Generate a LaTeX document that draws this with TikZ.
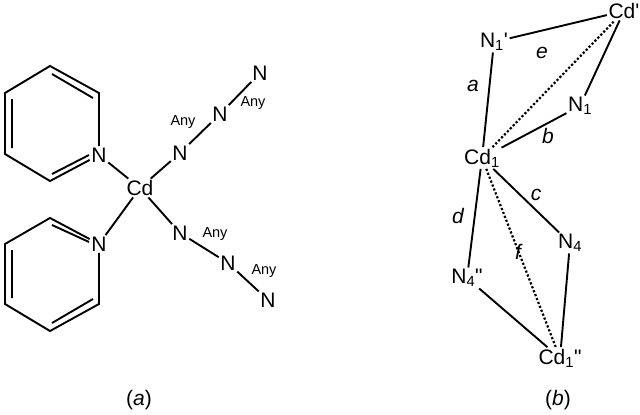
\documentclass[tikz,border=0pt]{standalone}
\usepackage{fontspec}
\setmainfont{Liberation Sans}
\usetikzlibrary{positioning}
\begin{document}
\begin{tikzpicture}[x=1pt,y=-1pt,
    atom/.style={inner sep=1.5pt, font=\fontsize{21}{21}\selectfont},
    tag/.style={inner sep=0pt, font=\fontsize{14.5}{14.5}\selectfont},
    lbl/.style={inner sep=0pt, font=\fontsize{21}{21}\selectfont\itshape},
    bond/.style={line width=1.9pt},
    weak/.style={line width=2.2pt, dotted}
]
\useasboundingbox (0,0) rectangle (640,415);
% (a) complex
\node[atom] (cd) at (140,188) {Cd};
\node[atom] (pn1) at (99,155) {N};
\node[atom] (pn2) at (99,244) {N};
\node[atom] (u1) at (180,153) {N};
\node[atom] (u2) at (220,114) {N};
\node[atom] (u3) at (260,73) {N};
\node[atom] (l1) at (180,233) {N};
\node[atom] (l2) at (228,263) {N};
\node[atom] (l3) at (268,300) {N};
\node[tag] at (183,122) {Any};
\node[tag] at (253,103) {Any};
\node[tag] at (215,234) {Any};
\node[tag] at (264,271) {Any};
% rings
\draw[bond] (pn1) -- (50,181) -- (5,154) -- (5,93) -- (50,66) -- (99,93) -- (pn1);
\draw[bond] (89,155) -- (52,174) (12,148) -- (12,99) (52,74) -- (93,98);
\draw[bond] (pn2) -- (99,304) -- (50,331) -- (5,304) -- (5,244) -- (50,218) -- (pn2);
\draw[bond] (89,242) -- (52,225) (12,250) -- (12,298) (93,299) -- (52,323);
% bonds
\draw[bond] (cd) -- (pn1);
\draw[bond] (cd) -- (pn2);
\draw[bond] (cd) -- (u1) -- (u2) -- (u3);
\draw[bond] (cd) -- (l1) -- (l2) -- (l3);
% (b) core
\node[atom] (cdp) at (624,11) {Cd\textquotesingle};
\node[atom] (n1p) at (494,42) {N\textsubscript{1}\textquotesingle};
\node[atom] (n1) at (580,106) {N\textsubscript{1}};
\node[atom] (cd1) at (482,158) {Cd\textsubscript{1}};
\node[atom] (n4) at (570,243) {N\textsubscript{4}};
\node[atom] (n4pp) at (467,278) {N\textsubscript{4}\textquotedbl};
\node[atom] (cd1pp) at (560,358) {Cd\textsubscript{1}\textquotedbl};
\draw[bond] (n1p) -- (cdp) -- (n1);
\draw[bond] (n1p) -- (cd1) -- (n1);
\draw[bond] (cd1) -- (n4) -- (cd1pp);
\draw[bond] (cd1) -- (n4pp) -- (cd1pp);
\draw[weak] (cd1) -- (cdp);
\draw[weak] (cd1) -- (cd1pp);
\node[lbl] at (542,53) {e};
\node[lbl] at (473,86) {a};
\node[lbl] at (548,136) {b};
\node[lbl] at (536,195) {c};
\node[lbl] at (458,216) {d};
\node[lbl] at (518,252) {f};
% captions
\node[atom] at (139,400) {(\textit{a})};
\node[atom] at (558,400) {(\textit{b})};
\end{tikzpicture}
\end{document}
